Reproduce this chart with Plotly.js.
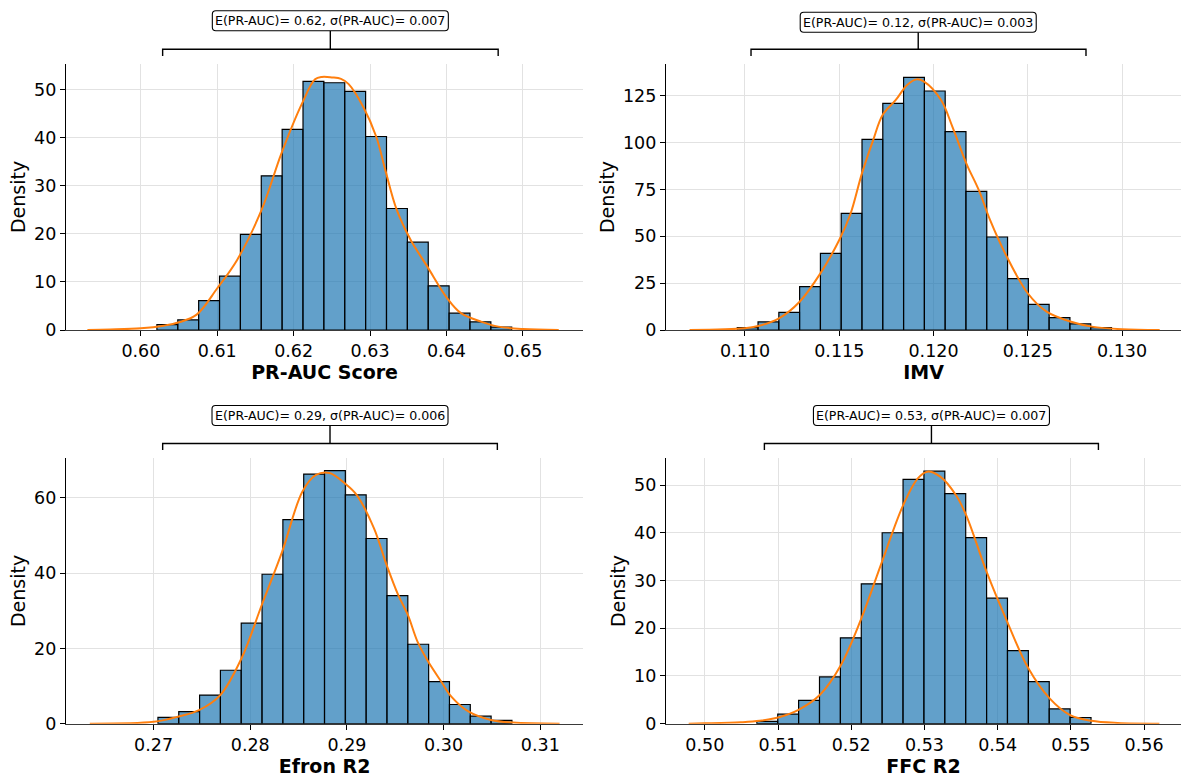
<!DOCTYPE html>
<html><head><meta charset="utf-8">
<script src="https://cdn.plot.ly/plotly-3.0.1.min.js"></script>
<style>body{margin:0;background:#fff}#chart{width:1182px;height:778px}</style>
</head><body><div id="chart"></div>
<script>
// ---------- data ----------
const xTitles = ['PR-AUC Score', 'IMV', 'Efron R2', 'FFC R2'];
const boxTexts = [
  'E(PR-AUC)= 0.62, σ(PR-AUC)= 0.007',
  'E(PR-AUC)= 0.12, σ(PR-AUC)= 0.003',
  'E(PR-AUC)= 0.29, σ(PR-AUC)= 0.006',
  'E(PR-AUC)= 0.53, σ(PR-AUC)= 0.007'
];
// histogram bins (density)
const binStart = [0.6021, 0.10959, 0.27045, 0.50711];
const binWidth = [0.002732, 0.001103, 0.002154, 0.002853];
const densPR   = [1.1, 2.1, 6.1, 11.2, 19.9, 32.1, 41.8, 51.8, 51.5, 49.7, 40.3, 25.3, 18.3, 9.2, 3.5, 1.7, 0.6];
const densIMV  = [1.3, 4.3, 9.4, 23.1, 40.9, 62.2, 101.7, 120.9, 134.8, 127.5, 105.8, 74.0, 49.6, 27.4, 13.7, 6.6, 3.3, 1.3];
const densEfron= [1.7, 3.2, 7.6, 14.2, 26.7, 39.7, 54.2, 66.3, 67.2, 60.8, 49.2, 34.0, 21.1, 11.2, 5.1, 2.0, 0.9];
const densFFC  = [0.5, 2.0, 4.9, 9.8, 18.0, 29.3, 40.0, 51.2, 52.9, 48.2, 39.0, 26.3, 15.3, 8.8, 3.1, 1.3];
// KDE curves
const kdeXPR = [0.593,0.596,0.600,0.603,0.605,0.6073,0.610,0.6126,0.6158,0.6184,0.6211,0.6228,0.6237,0.6250,0.6262,0.6272,0.6291,0.6308,0.6320,0.6335,0.6353,0.6375,0.6401,0.6419,0.6446,0.6468,0.650,0.6547];
const kdeYPR = [0,0.1,0.35,0.9,1.6,3.2,8.7,14.6,25.0,36.8,47.2,52.2,52.7,52.6,52.3,51.2,46.5,40.3,33.3,25.0,18.8,13.2,6.6,3.5,1.7,0.7,0.2,0];
const kdeXIMV = [0.10706,0.110,0.1107,0.1118,0.1129,0.1140,0.1150,0.1156,0.1162,0.1168,0.1173,0.1180,0.1186,0.1191,0.1195,0.1204,0.1210,0.12174,0.1224,0.1230,0.1238,0.1250,0.1260,0.1273,0.1284,0.130,0.132];
const kdeYIMV = [0,0.9,2.1,6.2,15.1,30.2,48.0,62.0,83.4,101.3,114.7,122.7,130.7,133.7,132.5,122.7,108.5,88.9,74.7,58.7,40.9,19.6,9.8,4.4,1.8,0.4,0];
const kdeXEfron = [0.2634,0.270,0.2726,0.2747,0.2769,0.2791,0.2812,0.2833,0.2854,0.2868,0.2882,0.2898,0.2910,0.2928,0.2941,0.2953,0.2963,0.2973,0.2984,0.2998,0.3008,0.3026,0.3049,0.3072,0.3120];
const kdeYEfron = [0,0.5,1.9,3.6,7.6,17.4,31.6,45.7,61.7,66.1,66.6,63.8,60.8,51.9,42.2,34.2,28.9,21.8,16.5,11.0,7.2,3.2,1.0,0.3,0];
const kdeXFFC = [0.4978,0.500,0.5049,0.5075,0.510,0.5128,0.5157,0.5186,0.5214,0.5242,0.5271,0.5291,0.5304,0.5322,0.5343,0.5357,0.5385,0.5413,0.5442,0.5471,0.5499,0.5528,0.5564,0.5621];
const kdeYFFC = [0,0.07,0.3,0.6,1.3,2.9,6.0,12.3,22.1,33.9,45.8,51.4,52.8,51.7,47.9,43.7,31.8,21.4,11.6,5.3,1.8,0.6,0.14,0];
// bracket (data x) per panel
const bracketLo  = [0.60285, 0.11032, 0.27094, 0.50814];
const bracketMid = [0.62480, 0.11919, 0.28825, 0.53096];
const bracketHi  = [0.64677, 0.12809, 0.30556, 0.55377];

// ---------- layout ----------
const W = 1182, H = 778;
const densities = [densPR, densIMV, densEfron, densFFC];
const kdeX = [kdeXPR, kdeXIMV, kdeXEfron, kdeXFFC];
const kdeY = [kdeYPR, kdeYIMV, kdeYEfron, kdeYFFC];
const xRanges = [[0.5902,0.6579],[0.10581,0.13313],[0.26094,0.31444],[0.4947,0.56505]];
const yRanges = [[0,55.4],[0,141.9],[0,70.5],[0,55.6]];
const xDticks = [0.01, 0.005, 0.01, 0.01];
const xFormats = ['.2f','.3f','.2f','.2f'];
const yDticks = [10, 25, 20, 10];
const pxX = [[66,583.2],[666,1181],[66,583.2],[666,1181]];
const pxY = [[64,330],[64,330],[458.3,723.7],[458.3,723.7]];
// bracket pixel y: [line, tickEnd, boxBottom]
const brY = [[49.3,56,30.7],[49.3,56,32.3],[443.5,450,425.5],[443.5,450,425.5]];
const boxW = 236, boxH = 20, rad = 3.5;

const font = 'DejaVu Sans, Verdana, sans-serif';
const traces = [];
const layout = {
  width: W, height: H, margin: {l:0,r:0,t:0,b:0},
  paper_bgcolor: '#fff', plot_bgcolor: '#fff', showlegend: false,
  font: {family: font, color: '#000'},
  bargap: 0, shapes: [], annotations: []
};
function roundRect(w, h, r) {
  const x0 = -w/2, x1 = w/2, y0 = 0, y1 = h;
  return `M ${x0+r},${y0} L ${x1-r},${y0} Q ${x1},${y0} ${x1},${y0+r} L ${x1},${y1-r} Q ${x1},${y1} ${x1-r},${y1} ` +
         `L ${x0+r},${y1} Q ${x0},${y1} ${x0},${y1-r} L ${x0},${y0+r} Q ${x0},${y0} ${x0+r},${y0} Z`;
}
for (let i = 0; i < 4; i++) {
  const n = i + 1, xa = n === 1 ? 'x' : 'x' + n, ya = n === 1 ? 'y' : 'y' + n;
  const d = densities[i];
  traces.push({
    type: 'bar', xaxis: xa, yaxis: ya,
    x: d.map((_, k) => binStart[i] + binWidth[i] * (k + 0.5)),
    y: d, width: binWidth[i],
    marker: {color: 'rgba(31,119,180,0.7)', line: {color: '#000', width: 1.2}},
    hoverinfo: 'x+y'
  });
  traces.push({
    type: 'scatter', mode: 'lines', xaxis: xa, yaxis: ya,
    x: kdeX[i], y: kdeY[i],
    line: {color: '#ff7f0e', width: 2, shape: 'spline', smoothing: 1}
  });
  const axx = {
    domain: [pxX[i][0]/W, pxX[i][1]/W], anchor: ya, range: xRanges[i],
    dtick: xDticks[i], tick0: 0, tickformat: xFormats[i],
    showgrid: true, gridcolor: '#e2e2e2', gridwidth: 1,
    showline: true, linecolor: '#3a3a3a', linewidth: 1.3,
    ticks: 'outside', ticklen: 5, tickwidth: 1, tickcolor: '#000',
    tickfont: {size: 17.5, family: font, color: '#000'},
    zeroline: false,
    title: {text: xTitles[i], font: {size: 19, family: font, weight: 'bold', color: '#000'}, standoff: 4}
  };
  const axy = {
    domain: [1 - pxY[i][1]/H, 1 - pxY[i][0]/H], anchor: xa, range: yRanges[i],
    dtick: yDticks[i], tick0: 0,
    showgrid: true, gridcolor: '#e2e2e2', gridwidth: 1,
    showline: true, linecolor: '#000', linewidth: 1.2,
    ticks: 'outside', ticklen: 5, tickwidth: 1, tickcolor: '#000',
    tickfont: {size: 17.5, family: font, color: '#000'},
    zeroline: false,
    title: {text: 'Density', font: {size: 19, family: font, color: '#000'}, standoff: 3}
  };
  layout['xaxis' + (n === 1 ? '' : n)] = axx;
  layout['yaxis' + (n === 1 ? '' : n)] = axy;
  const yl = 1 - brY[i][0]/H, yt = 1 - brY[i][1]/H, yb = 1 - brY[i][2]/H;
  layout.shapes.push({
    type: 'path', xref: xa, yref: 'paper',
    path: `M ${bracketLo[i]},${yt} L ${bracketLo[i]},${yl} L ${bracketHi[i]},${yl} L ${bracketHi[i]},${yt}`,
    line: {color: '#000', width: 1.4}
  });
  layout.shapes.push({
    type: 'line', xref: xa, yref: 'paper',
    x0: bracketMid[i], x1: bracketMid[i], y0: yl, y1: yb,
    line: {color: '#000', width: 1.4}
  });
  layout.shapes.push({
    type: 'path', xref: xa, yref: 'paper',
    xsizemode: 'pixel', ysizemode: 'pixel', xanchor: bracketMid[i], yanchor: yb,
    path: roundRect(boxW, boxH, rad),
    fillcolor: '#fff', line: {color: '#000', width: 1.1}
  });
  layout.annotations.push({
    xref: xa, yref: 'paper', x: bracketMid[i], y: yb, yshift: boxH/2,
    xanchor: 'center', yanchor: 'middle', showarrow: false,
    text: boxTexts[i], font: {size: 12.6, family: font, color: '#000'}
  });
}
Plotly.newPlot('chart', traces, layout, {displayModeBar: false, staticPlot: true});
</script>
</body></html>
